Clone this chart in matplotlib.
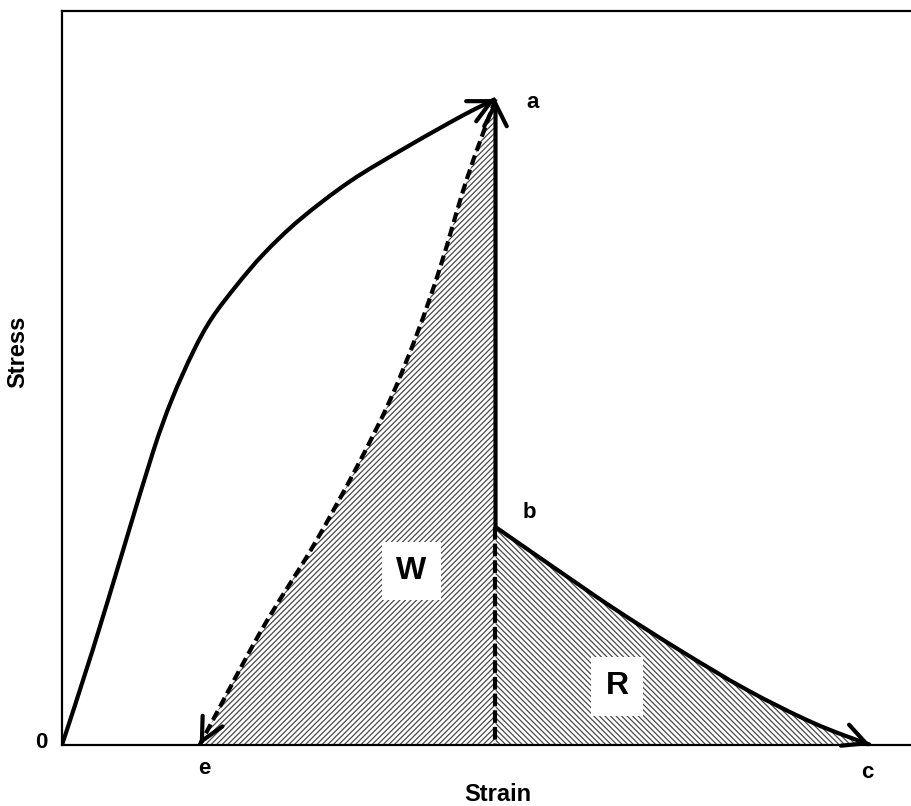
import matplotlib
matplotlib.use("Agg")
import matplotlib.pyplot as plt
from matplotlib.path import Path
from matplotlib.patches import PathPatch
import numpy as np

plt.rcParams['font.family'] = ['Liberation Sans', 'DejaVu Sans']
plt.rcParams['hatch.linewidth'] = 0.9

# ---- data (arbitrary strain / stress units, axes span 0..10) ----
load_strain = [0.0, 0.36, 0.72, 1.07, 1.29, 1.54, 1.76, 2.06, 2.38, 2.80, 3.39, 4.06, 4.72, 5.1]
load_stress = [0.0, 1.29, 2.66, 3.99, 4.70, 5.35, 5.81, 6.27, 6.70, 7.16, 7.68, 8.15, 8.58, 8.8]

peak_strain = 5.1          # point a
peak_stress = 8.8
relax_stress = 2.97        # point b

unload_strain = [5.1, 4.76, 4.45, 4.18, 3.86, 3.47, 2.95, 2.33, 1.62]
unload_stress = [8.8, 7.70, 6.51, 5.61, 4.70, 3.79, 2.70, 1.53, 0.0]

recov_strain = [5.1, 5.71, 6.48, 7.27, 8.06, 8.84, 9.51]
recov_stress = [2.97, 2.48, 1.87, 1.29, 0.75, 0.30, 0.0]

point_labels = ['0', 'a', 'b', 'e', 'c']
area_labels = ['W', 'R']

fig = plt.figure(figsize=(9.12, 8.06), dpi=100)
ax = fig.add_axes([62/912, 61/806, 850/912, 734/806])
ax.set_xlim(0, 10)
ax.set_ylim(0, 10)
ax.set_xticks([])
ax.set_yticks([])
for s in ['left', 'top', 'bottom']:
    ax.spines[s].set_linewidth(1.6)
ax.spines['right'].set_visible(False)


def smooth_path(xs, ys):
    """Bezier path through the given points (Catmull-Rom tangents)."""
    P = np.column_stack([xs, ys]).astype(float)
    n = len(P)
    verts = [P[0]]
    codes = [Path.MOVETO]
    for i in range(n - 1):
        p0 = P[i - 1] if i > 0 else P[i]
        p1, p2 = P[i], P[i + 1]
        p3 = P[i + 2] if i + 2 < n else P[i + 1]
        c1 = p1 + (p2 - p0) / 6.0
        c2 = p2 - (p3 - p1) / 6.0
        verts += [c1, c2, p2]
        codes += [Path.CURVE4] * 3
    return Path(np.array(verts), codes), verts[-2]


hcol = '#4a4a4a'
# W area: between unloading (dashed) curve and the vertical at peak strain
wpath, _ = smooth_path(unload_strain, unload_stress)
wverts = list(wpath.vertices) + [(peak_strain, 0.0), (peak_strain, peak_stress)]
wcodes = list(wpath.codes) + [Path.LINETO, Path.CLOSEPOLY]
ax.add_patch(PathPatch(Path(np.array(wverts), wcodes), facecolor='white', edgecolor=hcol,
                       hatch='//////', linewidth=0, zorder=1))
# R area: under recovery curve
rpath, _ = smooth_path(recov_strain, recov_stress)
rverts = list(rpath.vertices) + [(peak_strain, 0.0), (peak_strain, relax_stress)]
rcodes = list(rpath.codes) + [Path.LINETO, Path.CLOSEPOLY]
ax.add_patch(PathPatch(Path(np.array(rverts), rcodes), facecolor='white', edgecolor=hcol,
                       hatch='\\\\\\\\\\\\', linewidth=0, zorder=1))

lw = 3.0
head = '->,head_length=0.6,head_width=0.3'
ms = 27


def head_at(tip, back):
    tip = np.asarray(tip, float)
    back = np.asarray(back, float)
    d = tip - back
    start = tip - d * 0.25
    ax.annotate('', xy=tuple(tip), xytext=tuple(start),
                arrowprops=dict(arrowstyle=head, lw=lw, color='black',
                                mutation_scale=ms, shrinkA=0, shrinkB=0),
                zorder=5)


def curve(xs, ys, ls='-', arrow=True):
    path, ctrl = smooth_path(xs, ys)
    ax.add_patch(PathPatch(path, fill=False, edgecolor='black', lw=lw, linestyle=ls,
                           capstyle='butt', joinstyle='round', zorder=4))
    if arrow:
        head_at((xs[-1], ys[-1]), ctrl)


# loading curve 0 -> a
curve(load_strain, load_stress)
# vertical solid line b -> a
ax.annotate('', xy=(peak_strain, peak_stress), xytext=(peak_strain, relax_stress),
            arrowprops=dict(arrowstyle=head, lw=lw, color='black',
                            mutation_scale=ms, shrinkA=0, shrinkB=0), zorder=5)
# dashed unloading curve a -> e
curve(unload_strain, unload_stress, ls=(0, (2.4, 1.2)))
# dashed vertical b -> base
ax.plot([peak_strain, peak_strain], [relax_stress, 0.0], color='black', lw=lw,
        linestyle=(0, (3.0, 1.0)), zorder=4)
# recovery curve b -> c
curve(recov_strain, recov_stress)

# point labels
fs = 16
ax.text(-0.24, 0.03, point_labels[0], ha='center', va='center', fontsize=fs, fontweight='bold')
ax.text(5.54, 8.75, point_labels[1], ha='center', va='center', fontsize=fs, fontweight='bold')
ax.text(5.5, 3.17, point_labels[2], ha='center', va='center', fontsize=fs, fontweight='bold')
ax.text(1.68, -0.32, point_labels[3], ha='center', va='center', fontsize=fs, fontweight='bold')
ax.text(9.48, -0.37, point_labels[4], ha='center', va='center', fontsize=fs, fontweight='bold')

# area labels
box = dict(boxstyle='square,pad=0.45', facecolor='white', edgecolor='none')
ax.text(4.11, 2.37, area_labels[0], ha='center', va='center', fontsize=23,
        fontweight='bold', bbox=box, zorder=6)
ax.text(6.53, 0.80, area_labels[1], ha='center', va='center', fontsize=23,
        fontweight='bold', bbox=box, zorder=6)

ax.text(0.513, -0.068, 'Strain', transform=ax.transAxes, ha='center', va='center',
        fontsize=17, fontweight='bold')
ax.text(-0.052, 0.535, 'Stress', transform=ax.transAxes, ha='center', va='center',
        fontsize=17, fontweight='bold', rotation=90)

fig.savefig('out.png', dpi=100)
